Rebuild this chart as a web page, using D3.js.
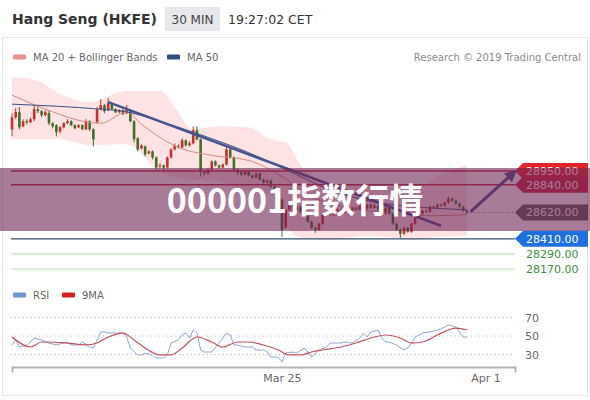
<!DOCTYPE html>
<html>
<head>
<meta charset="utf-8">
<script src="https://cdn.jsdelivr.net/npm/d3@7"></script>
<style>
  body { margin: 0; background: #fff; }
  svg { display: block; font-family: "DejaVu Sans", sans-serif; }
</style>
</head>
<body>
<svg id="chart" width="590" height="400"></svg>
<script>
// 30 min candles, index 0 = first bar on the chart
var open = [29282,29378,29418,29306,29346,29338,29362,29442,29426,29394,
  29410,29330,29314,29266,29298,29330,29346,29314,29298,29314,
  29282,29346,29282,29338,29442,29474,29434,29482,29442,29418,
  29434,29410,29434,29346,29210,29130,29146,29090,29106,29058,
  28986,28994,28978,29058,29122,29146,29138,29194,29154,29170,
  29274,29202,28946,28930,28962,29026,28994,28978,29002,29122,
  29058,28962,28938,28922,28946,28914,28898,28930,28882,28858,
  28874,28826,28778,28722,28498,28642,28682,28642,28666,28626,
  28594,28546,28498,28482,28530,28602,28618,28602,28626,28642,
  28618,28650,28634,28658,28642,28674,28650,28682,28658,28674,
  28642,28610,28658,28610,28530,28482,28450,28498,28466,28530,
  28578,28610,28634,28626,28666,28658,28682,28674,28698,28730,
  28714,28690,28666,28634];
var close = [29378,29418,29298,29346,29338,29362,29442,29426,29394,29418,
  29330,29306,29258,29298,29330,29346,29314,29290,29314,29282,
  29346,29282,29202,29442,29474,29426,29490,29442,29418,29434,
  29402,29442,29346,29202,29122,29154,29082,29106,29058,28978,
  28994,28978,29058,29122,29154,29138,29194,29154,29170,29274,
  29202,28946,28930,28962,29026,28994,28978,29002,29122,29058,
  28962,28938,28922,28946,28914,28898,28930,28882,28858,28874,
  28826,28778,28738,28482,28642,28682,28642,28666,28626,28594,
  28546,28498,28482,28530,28602,28618,28602,28626,28642,28618,
  28650,28634,28658,28642,28674,28650,28682,28658,28674,28642,
  28610,28658,28610,28530,28482,28450,28498,28466,28530,28578,
  28610,28634,28626,28666,28658,28682,28674,28698,28730,28714,
  28690,28666,28634,28620];
var high = [29410,29450,29458,29362,29362,29378,29474,29466,29434,29434,
  29434,29338,29322,29306,29338,29362,29354,29322,29322,29322,
  29362,29354,29290,29458,29522,29482,29530,29490,29450,29442,
  29442,29474,29442,29354,29218,29162,29154,29114,29114,29066,
  29010,29002,29066,29130,29170,29162,29210,29202,29186,29306,
  29306,29210,28954,28970,29034,29034,29002,29010,29154,29130,
  29066,28970,28946,28954,28954,28922,28938,28938,28890,28882,
  28882,28834,28786,28730,28650,28698,28690,28674,28674,28634,
  28602,28554,28506,28538,28610,28626,28626,28634,28650,28650,
  28658,28658,28666,28666,28682,28682,28690,28690,28690,28682,
  28650,28666,28666,28618,28538,28490,28506,28506,28538,28586,
  28618,28642,28642,28674,28674,28690,28690,28706,28746,28738,
  28722,28698,28674,28642];
var low = [29226,29362,29282,29298,29322,29330,29346,29410,29378,29386,
  29314,29290,29226,29250,29290,29322,29306,29282,29290,29274,
  29274,29266,29146,29330,29434,29410,29426,29434,29410,29410,
  29394,29402,29338,29178,29106,29122,29066,29082,29042,28962,
  28970,28954,28970,29050,29114,29130,29130,29146,29146,29162,
  29194,28906,28914,28922,28954,28986,28970,28970,28994,29050,
  28954,28922,28906,28914,28906,28890,28890,28874,28850,28850,
  28818,28770,28730,28426,28490,28634,28634,28634,28618,28586,
  28538,28490,28458,28474,28522,28594,28594,28594,28618,28610,
  28610,28626,28626,28634,28634,28642,28642,28650,28650,28634,
  28602,28602,28602,28522,28474,28418,28442,28458,28458,28522,
  28570,28602,28618,28618,28650,28650,28666,28666,28690,28706,
  28682,28658,28626,28610];

// Bollinger bands + MA 20, read at a few bars
var bandIdx = [0,7,13,21,31,40,44,49,56,64,70,74,78,86,97,108,116,123];
var bandUpper = [29698,29666,29562,29498,29586,29586,29458,29282,29306,29298,29202,29178,29002,28842,28842,28802,28922,29002];
var bandLower = [29202,29202,29202,29154,29162,28946,28898,28882,28866,28802,28762,28522,28418,28402,28434,28402,28426,28434];
var ma20Idx = [0,7,24,31,35,45,54,64,73,80,89,99,113,123];
var ma20 = [29554,29466,29330,29418,29322,29138,29074,29034,28906,28762,28666,28626,28594,28602];
var ma50Idx = [0,24,30,40,49,59,67,74,86,99,123];
var ma50 = [29482,29442,29426,29346,29258,29154,29058,28962,28802,28698,28642];

// [bar index, price]
var trendLine = [[26, 29498], [116, 28514]];
var arrowLine = [[124, 28626], [136, 28946]];

var resistance = [28950, 28840];
var pivot = 28620;
var support = [28410, 28290, 28170];

// RSI panel
var rsiIdx = [0,1,2,4,6,8,10,12,14,15,16,18,19,21,22,24,25,26,28,30,
  31,32,34,35,36,38,39,41,42,43,45,46,47,48,49,50,51,52,54,56,
  58,59,60,61,63,65,66,68,69,70,72,73,74,76,77,79,80,81,83,85,
  86,89,90,92,94,95,96,97,99,100,101,102,104,106,107,108,109,111,113,115,
  116,118,120,121,122,123];
var rsi = [40.3,45.7,38.1,40.3,47.8,45.7,42.4,40.3,42.4,43.5,40.3,40.3,43.5,38.1,37.0,54.3,54.3,53.2,53.2,53.2,
  48.9,37.0,29.5,29.5,31.6,29.5,26.2,26.2,29.5,42.4,45.7,51.1,53.2,47.8,56.5,53.2,34.9,32.7,32.7,42.4,
  53.2,51.1,40.3,40.3,38.1,38.1,34.9,34.9,32.7,27.3,27.3,21.9,31.6,32.7,31.6,37.0,32.7,27.3,34.9,38.1,
  42.4,42.4,43.5,42.4,47.8,53.2,48.9,54.3,56.5,47.8,43.5,43.5,40.3,34.9,37.0,42.4,48.9,53.2,54.3,56.5,
  57.6,61.9,59.7,54.3,48.9,48.9];
var rsiMaIdx = [0,5,8,15,20,23,26,30,33,36,40,43,46,50,54,57,61,64,68,72,
  75,78,81,84,89,93,98,101,105,108,111,115,118,120,123];
var rsiMa = [48.9,38.1,43.5,42.4,40.3,42.4,48.9,53.2,45.7,37.0,29.5,29.5,37.0,48.9,43.5,38.1,43.5,43.5,40.3,34.9,
  29.5,29.5,32.7,34.9,38.1,42.4,48.9,51.1,47.8,42.4,43.5,51.1,56.5,58.6,56.5];
var rsiLevels = [30, 50, 70];

var timeTickIdx = [73, 128];
var timeTickLabels = ["Mar 25", "Apr 1"];

var svg = d3.select("#chart");

// scales
var x = d3.scaleLinear().domain([0, 136]).range([12, 515]);
var y = d3.scaleLinear().domain([28170, 28950]).range([269, 171]);
var yR = d3.scaleLinear().domain([30, 70]).range([354.5, 317.5]);

// card frame
svg.append("rect").attr("x", 2.5).attr("y", 37.5).attr("width", 585).attr("height", 358)
  .attr("fill", "none").attr("stroke", "#e6e6e6");

// header
svg.append("text").attr("x", 12).attr("y", 24).attr("font-size", 14).attr("font-weight", "bold")
  .attr("fill", "#333").text("Hang Seng (HKFE)");
svg.append("rect").attr("x", 165).attr("y", 7).attr("width", 55).attr("height", 24).attr("fill", "#e6e8eb");
svg.append("text").attr("x", 192.5).attr("y", 23.5).attr("text-anchor", "middle").attr("font-size", 12)
  .attr("fill", "#444").text("30 MIN");
svg.append("text").attr("x", 228).attr("y", 23.5).attr("font-size", 12.5).attr("fill", "#333").text("19:27:02 CET");

// legends
function legendItem(px, py, color, label) {
  svg.append("rect").attr("x", px).attr("y", py - 3.5).attr("width", 13).attr("height", 5).attr("rx", 1).attr("fill", color);
  svg.append("text").attr("x", px + 20).attr("y", py + 3).attr("font-size", 10).attr("fill", "#666").text(label);
}
legendItem(13, 58, "#e8918d", "MA 20 + Bollinger Bands");
legendItem(167, 58, "#2f5079", "MA 50");
svg.append("text").attr("x", 581).attr("y", 61).attr("text-anchor", "end").attr("font-size", 10)
  .attr("fill", "#8a8a8a").text("Research \u00a9 2019 Trading Central");

// bollinger band
var band = d3.area()
  .x(function (d, i) { return x(bandIdx[i]); })
  .y0(function (d, i) { return y(bandLower[i]); })
  .y1(function (d, i) { return y(bandUpper[i]); })
  .curve(d3.curveMonotoneX);
svg.append("path").datum(bandIdx).attr("d", band).attr("fill", "#fde3e3");

// candles
var bars = d3.range(close.length);
var up = function (i) { return close[i] >= open[i]; };
var candles = svg.append("g");
candles.selectAll("line").data(bars).join("line")
  .attr("x1", function (i) { return x(i); }).attr("x2", function (i) { return x(i); })
  .attr("y1", function (i) { return y(high[i]); }).attr("y2", function (i) { return y(low[i]); })
  .attr("stroke", function (i) { return up(i) ? "#c4302b" : "#3f6f2a"; }).attr("stroke-width", 1);
candles.selectAll("rect").data(bars).join("rect")
  .attr("x", function (i) { return x(i) - 1.3; }).attr("width", 2.6)
  .attr("y", function (i) { return y(Math.max(open[i], close[i])); })
  .attr("height", function (i) { return Math.max(1, Math.abs(y(open[i]) - y(close[i]))); })
  .attr("fill", function (i) { return up(i) ? "#c4302b" : "#3f6f2a"; });

// moving averages
var line = d3.line().curve(d3.curveMonotoneX);
svg.append("path").attr("d", line(ma20Idx.map(function (d, i) { return [x(d), y(ma20[i])]; })))
  .attr("fill", "none").attr("stroke", "#d98a86").attr("stroke-width", 1);
svg.append("path").attr("d", line(ma50Idx.map(function (d, i) { return [x(d), y(ma50[i])]; })))
  .attr("fill", "none").attr("stroke", "#3b4f80").attr("stroke-width", 1);

// support / resistance levels
function level(price, color, width) {
  svg.append("line").attr("x1", 11).attr("x2", 515).attr("y1", y(price)).attr("y2", y(price))
    .attr("stroke", color).attr("stroke-width", width);
}
level(resistance[0], "#c2283c", 1.5);
level(resistance[1], "#c2283c", 1.5);
level(support[0], "#34506e", 1.2);
level(support[1], "#b6dcb0", 1);
level(support[2], "#b6dcb0", 1);
svg.append("line").attr("x1", 470).attr("x2", 515).attr("y1", y(pivot)).attr("y2", y(pivot))
  .attr("stroke", "#777").attr("stroke-dasharray", "1,2");

// trend line and projection arrow
svg.append("defs").append("marker").attr("id", "head").attr("viewBox", "0 0 10 10")
  .attr("refX", 8).attr("refY", 5).attr("markerWidth", 4).attr("markerHeight", 4)
  .attr("orient", "auto").append("path").attr("d", "M0,0L10,5L0,10z").attr("fill", "#44558f");
svg.append("path").attr("d", d3.line()(trendLine.map(function (d) { return [x(d[0]), y(d[1])]; })))
  .attr("stroke", "#44558f").attr("stroke-width", 2.5).attr("fill", "none");
svg.append("path").attr("d", d3.line()(arrowLine.map(function (d) { return [x(d[0]), y(d[1])]; })))
  .attr("stroke", "#44558f").attr("stroke-width", 3).attr("fill", "none").attr("marker-end", "url(#head)");

// price tags on the right
function tag(price, bg, fg) {
  var py = y(price);
  if (bg) {
    svg.append("path").attr("d", "M515," + py + "L523," + (py - 8) + "H588V" + (py + 8) + "H523Z").attr("fill", bg);
  }
  svg.append("text").attr("x", 526).attr("y", py).attr("dy", "0.36em").attr("font-size", 11)
    .attr("fill", fg).text(d3.format(".2f")(price));
}
tag(resistance[0], "#e3232c", "#fff");
tag(resistance[1], "#c8243a", "#fff");
tag(pivot, "#5a5a5a", "#fff");
tag(support[0], "#1f6fe0", "#fff");
tag(support[1], null, "#3b8d3b");
tag(support[2], null, "#3b8d3b");

// RSI panel
legendItem(13, 296, "#7094d2", "RSI");
legendItem(62, 296, "#d21f1f", "9MA");
svg.append("g").selectAll("line").data(rsiLevels).join("line")
  .attr("x1", 11).attr("x2", 515).attr("y1", function (d) { return yR(d); }).attr("y2", function (d) { return yR(d); })
  .attr("stroke", "#b8b8b8").attr("stroke-dasharray", "1,3");
var rAxis = svg.append("g").attr("transform", "translate(518,0)")
  .call(d3.axisRight(yR).tickValues(rsiLevels).tickSize(0).tickPadding(7));
rAxis.select(".domain").remove();
rAxis.selectAll("text").attr("font-size", 11).attr("fill", "#666").attr("font-family", "DejaVu Sans");

svg.append("path").attr("d", d3.line()(rsiIdx.map(function (d, i) { return [x(d), yR(rsi[i])]; })))
  .attr("fill", "none").attr("stroke", "#8aa6cf").attr("stroke-width", 1);
svg.append("path").attr("d", line(rsiMaIdx.map(function (d, i) { return [x(d), yR(rsiMa[i])]; })))
  .attr("fill", "none").attr("stroke", "#c4505e").attr("stroke-width", 1.2);

// time axis
var tAxis = svg.append("g").attr("transform", "translate(0,367)")
  .call(d3.axisBottom(x).tickValues(timeTickIdx)
    .tickFormat(function (d, i) { return timeTickLabels[i]; })
    .tickSizeInner(0).tickSizeOuter(5).tickPadding(7));
tAxis.select(".domain").attr("stroke", "#b3b3b3").attr("stroke-width", 2);
tAxis.selectAll("text").attr("font-size", 11).attr("fill", "#666").attr("font-family", "DejaVu Sans");

// banner overlay
svg.append("rect").attr("x", 0).attr("y", 168).attr("width", 590).attr("height", 63)
  .attr("fill", "rgb(110,35,85)").attr("fill-opacity", 0.6);
svg.append("text").attr("x", 295).attr("y", 213).attr("text-anchor", "middle")
  .attr("font-family", "'Noto Sans CJK SC', sans-serif").attr("font-weight", "bold")
  .attr("font-size", 34).attr("fill", "#fff").text("000001指数行情");
</script>
</body>
</html>
